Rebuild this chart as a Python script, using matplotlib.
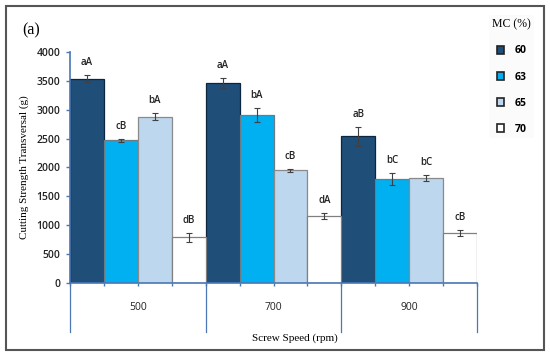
import matplotlib
matplotlib.use('Agg')
import matplotlib.pyplot as plt
import matplotlib.transforms as mtransforms
from matplotlib.patches import Rectangle
import numpy as np

# Data
speeds = ['500', '700', '900']
mc_levels = ['60', '63', '65', '70']
strength = {
    '60': [3540, 3460, 2540],
    '63': [2470, 2910, 1800],
    '65': [2880, 1950, 1820],
    '70': [790, 1160, 860],
}
errors = {
    '60': [65, 85, 160],
    '63': [20, 115, 110],
    '65': [60, 25, 55],
    '70': [80, 50, 50],
}
letters = {
    '60': ['aA', 'aA', 'aB'],
    '63': ['cB', 'bA', 'bC'],
    '65': ['bA', 'cB', 'bC'],
    '70': ['dB', 'dA', 'cB'],
}

fills = {'60': '#1f4e79', '63': '#00b0f0', '65': '#bdd7ee', '70': '#ffffff'}
edges = {'60': '#0d2640', '63': '#6b7b86', '65': '#8a8a8a', '70': '#808080'}
axis_blue = '#4a78b5'
sans = 'Open Sans'
serif = 'Liberation Serif'

fig = plt.figure(figsize=(5.5, 3.56), dpi=100)
ax = fig.add_axes([0.1273, 0.2051, 0.7400, 0.6488])

n = len(mc_levels)
for i, mc in enumerate(mc_levels):
    x = np.arange(len(speeds)) * n + i + 0.5
    ax.bar(x, strength[mc], width=1.0, color=fills[mc], edgecolor=edges[mc],
           linewidth=0.9, label=mc, zorder=2)
    ax.errorbar(x, strength[mc], yerr=errors[mc], fmt='none', ecolor='#404040',
                elinewidth=0.8, capsize=2.5, capthick=0.8, zorder=3)
    for xi, yi, ei, lab in zip(x, strength[mc], errors[mc], letters[mc]):
        ax.annotate(lab, (xi, yi + ei), xytext=(0, 5), textcoords='offset points',
                    ha='center', va='bottom', fontsize=7, fontweight='semibold',
                    family=sans, color='#222222')

ax.set_xlim(0, len(speeds) * n)
ax.set_ylim(0, 4000)
ax.set_yticks(np.arange(0, 4001, 500))
ax.set_xticks(np.arange(0, len(speeds) * n + 1))
ax.set_xticklabels([])
ax.tick_params(axis='x', direction='out', length=2.5, color=axis_blue, width=1)
ax.tick_params(axis='y', direction='out', length=3, color=axis_blue, width=1,
               labelsize=7.5, pad=4)
for t in ax.get_yticklabels():
    t.set_family(sans)
    t.set_fontweight('semibold')
    t.set_color('#222222')

for s in ['top', 'right']:
    ax.spines[s].set_visible(False)
for s in ['left', 'bottom']:
    ax.spines[s].set_color(axis_blue)
    ax.spines[s].set_linewidth(1.2)

# group divider lines and category labels below the axis
trans = mtransforms.blended_transform_factory(ax.transData, ax.transAxes)
for g in range(len(speeds) + 1):
    ax.plot([g * n, g * n], [0, -0.212], transform=trans, color=axis_blue,
            lw=0.9, clip_on=False)
for g, sp in enumerate(speeds):
    ax.text(g * n + n / 2, -0.108, sp, transform=trans, ha='center', va='center',
            fontsize=7.5, family=sans, color='#222222')

ax.set_ylabel('Cutting Strength Transversal (g)', family=serif, fontsize=8,
              labelpad=5)
fig.text(0.536, 0.05, 'Screw Speed (rpm)', ha='center', va='center',
         family=serif, fontsize=8)
fig.text(0.04, 0.915, '(a)', ha='left', va='center', family=serif, fontsize=11.5)

leg = ax.legend(loc='upper left', bbox_to_anchor=(0.88, 0.972),
                bbox_transform=fig.transFigure, title='MC (%)', frameon=True,
                handlelength=0.75, handleheight=0.75, handletextpad=1.0,
                labelspacing=1.45, borderpad=0.3, fontsize=7.5)
leg.get_frame().set_facecolor('#fafafa')
leg.get_frame().set_edgecolor('none')
leg.get_title().set_family(serif)
leg.get_title().set_fontsize(8.5)
for t in leg.get_texts():
    t.set_family(sans)
    t.set_fontweight('bold')
for h in leg.legend_handles:
    h.set_edgecolor('#222222')
    h.set_linewidth(1.2)

# outer frame
fig.patches.append(Rectangle((0.011, 0.017), 0.978, 0.966, transform=fig.transFigure,
                             fill=False, edgecolor='#555555', linewidth=1.5))

plt.savefig('out.png', dpi=100)
